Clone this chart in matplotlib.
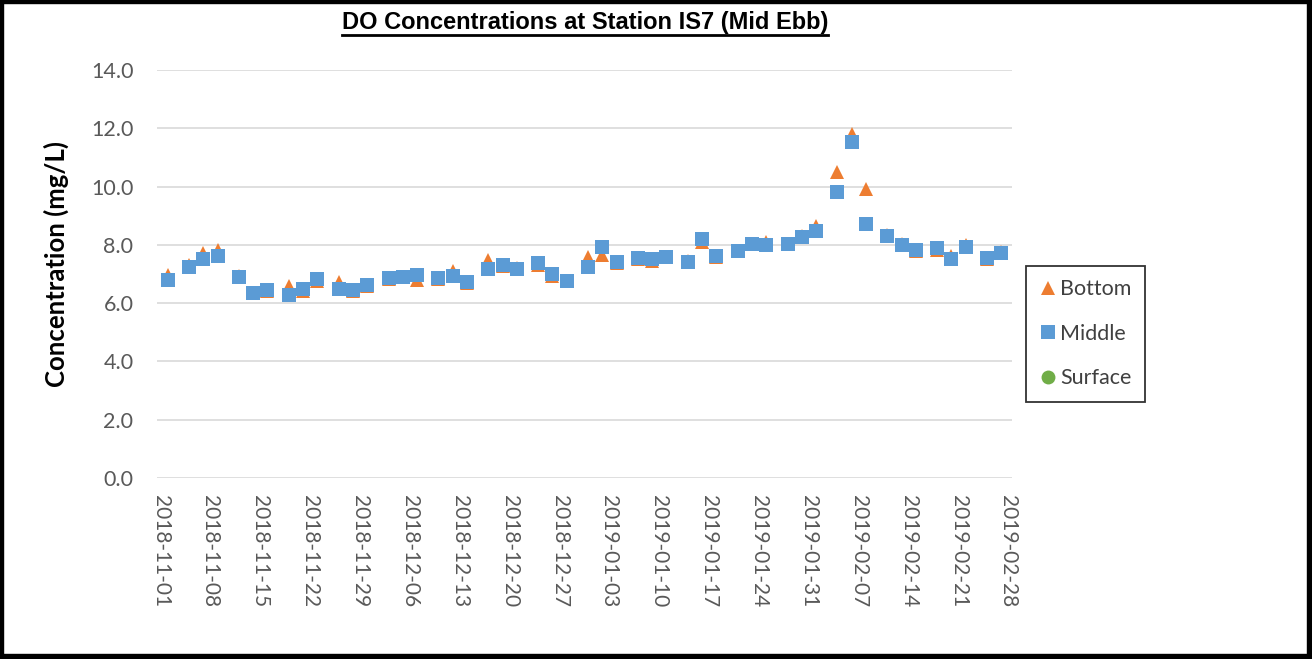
import matplotlib
matplotlib.use("Agg")
import matplotlib.pyplot as plt
import matplotlib.dates as mdates
from matplotlib.patches import Rectangle
from matplotlib.lines import Line2D
import numpy as np
import pandas as pd

# ---------------- data ----------------
dates = [
    "2018-11-02", "2018-11-05", "2018-11-07", "2018-11-09", "2018-11-12", "2018-11-14", "2018-11-16",
    "2018-11-19", "2018-11-21", "2018-11-23", "2018-11-26", "2018-11-28", "2018-11-30",
    "2018-12-03", "2018-12-05", "2018-12-07", "2018-12-10", "2018-12-12", "2018-12-14",
    "2018-12-17", "2018-12-19", "2018-12-21", "2018-12-24", "2018-12-26", "2018-12-28", "2018-12-31",
    "2019-01-02", "2019-01-04", "2019-01-07", "2019-01-09", "2019-01-11", "2019-01-14", "2019-01-16",
    "2019-01-18", "2019-01-21", "2019-01-23", "2019-01-25", "2019-01-28", "2019-01-30",
    "2019-02-01", "2019-02-04", "2019-02-06", "2019-02-08", "2019-02-11", "2019-02-13", "2019-02-15",
    "2019-02-18", "2019-02-20", "2019-02-22", "2019-02-25", "2019-02-27",
]
bottom = [
    6.95, 7.32, 7.72, 7.81, 6.93, 6.36, 6.42, 6.58, 6.43, 6.75, 6.72, 6.40, 6.60,
    6.84, 6.88, 6.80, 6.83, 7.09, 6.69, 7.47, 7.27, 7.20, 7.30, 6.94, 6.75, 7.58,
    7.66, 7.38, 7.52, 7.46, 7.60, 7.44, 8.10, 7.58, 7.78, 8.02, 8.10, 8.04, 8.29,
    8.64, 10.50, 11.79, 9.91, 8.33, 8.02, 7.80, 7.83, 7.61, 8.00, 7.51, 7.75,
]
middle = [
    6.79, 7.25, 7.50, 7.63, 6.88, 6.36, 6.46, 6.28, 6.48, 6.84, 6.47, 6.45, 6.61,
    6.87, 6.91, 6.95, 6.87, 6.93, 6.71, 7.18, 7.30, 7.16, 7.37, 6.99, 6.77, 7.25,
    7.94, 7.42, 7.56, 7.50, 7.59, 7.42, 8.20, 7.62, 7.80, 8.03, 8.00, 8.03, 8.26,
    8.47, 9.80, 11.52, 8.70, 8.31, 7.99, 7.82, 7.88, 7.50, 7.94, 7.54, 7.71,
]
surface = []  # no surface data shown
surface_dates = []

x_start = "2018-11-01"
x_end = "2019-02-28"
y_ticks = [0, 2, 4, 6, 8, 10, 12, 14]

title = "DO Concentrations at Station IS7 (Mid Ebb)"
ylabel = "Concentration (mg/L)"

# ---------------- figure ----------------
W, H = 1312, 659
fig = plt.figure(figsize=(W / 100, H / 100), dpi=100)
fig.patch.set_facecolor("white")

ax = fig.add_axes([157 / W, 1 - 478 / H, (1012 - 157) / W, (478 - 70) / H])

xd = mdates.date2num(pd.to_datetime(dates))
ax.plot(xd, bottom, linestyle="none", marker="^", markersize=10.5,
        color="#ED7D31", markeredgewidth=0, label="Bottom", zorder=3)
ax.plot(xd, middle, linestyle="none", marker="s", markersize=10,
        color="#5B9BD5", markeredgewidth=0, label="Middle", zorder=4)
ax.plot(mdates.date2num(pd.to_datetime(surface_dates)) if surface_dates else [], surface,
        linestyle="none", marker="o", markersize=10,
        color="#70AD47", markeredgewidth=0, label="Surface", zorder=5)

x0 = mdates.date2num(pd.Timestamp(x_start))
x1 = mdates.date2num(pd.Timestamp(x_end))
ax.set_xlim(x0 - 0.5, x1 + 0.5)
ax.set_ylim(0, 14)

ticks = mdates.date2num(pd.date_range(x_start, x_end, freq="7D"))
ax.set_xticks(ticks)
ax.set_xticklabels([pd.Timestamp(mdates.num2date(t)).strftime("%Y-%m-%d") for t in ticks],
                   rotation=-90, fontsize=15, color="#595959", family="Lato")
ax.set_yticks(y_ticks)
ax.set_yticklabels([f"{v:.1f}" for v in y_ticks], fontsize=15.5, color="#595959", family="Lato")
ax.tick_params(axis="both", length=0)
ax.tick_params(axis="x", pad=12)
ax.tick_params(axis="y", pad=17)

ax.grid(axis="y", color="#D9D9D9", linewidth=1.2)
ax.set_axisbelow(True)
for s in ax.spines.values():
    s.set_visible(False)

fig.text(56 / W, 1 - 264 / H, ylabel, rotation=90, ha="center", va="center",
         fontsize=18.5, fontweight="bold", family="Lato", color="black")

t = fig.text(585 / W, 1 - 29 / H, title, ha="center", va="baseline",
             fontsize=17, fontweight="bold", family="Liberation Sans", color="black")
fig.canvas.draw()
bb = t.get_window_extent()
fig.add_artist(Line2D([bb.x0 / W, bb.x1 / W], [1 - 35 / H, 1 - 35 / H],
                      transform=fig.transFigure, color="black", linewidth=2.0))

leg = fig.legend(loc="upper left", bbox_to_anchor=(1026 / W, 1 - 266 / H),
                 frameon=True, fancybox=False, prop={"family": "Lato", "size": 15.5},
                 handlelength=0.8, handletextpad=0.15, labelspacing=1.14,
                 borderpad=0.62, borderaxespad=0)
leg.get_frame().set_edgecolor("black")
leg.get_frame().set_linewidth(1.3)
for txt in leg.get_texts():
    txt.set_color("#404040")

# outer border
fig.add_artist(Rectangle((0, 0), 3 / W, 1, transform=fig.transFigure, color="black", zorder=10))
fig.add_artist(Rectangle((0, 1 - 3 / H), 1, 3 / H, transform=fig.transFigure, color="black", zorder=10))
fig.add_artist(Rectangle((1 - 5 / W, 0), 5 / W, 1, transform=fig.transFigure, color="black", zorder=10))
fig.add_artist(Rectangle((0, 0), 1, 5 / H, transform=fig.transFigure, color="black", zorder=10))

fig.savefig("out.png", dpi=100)
